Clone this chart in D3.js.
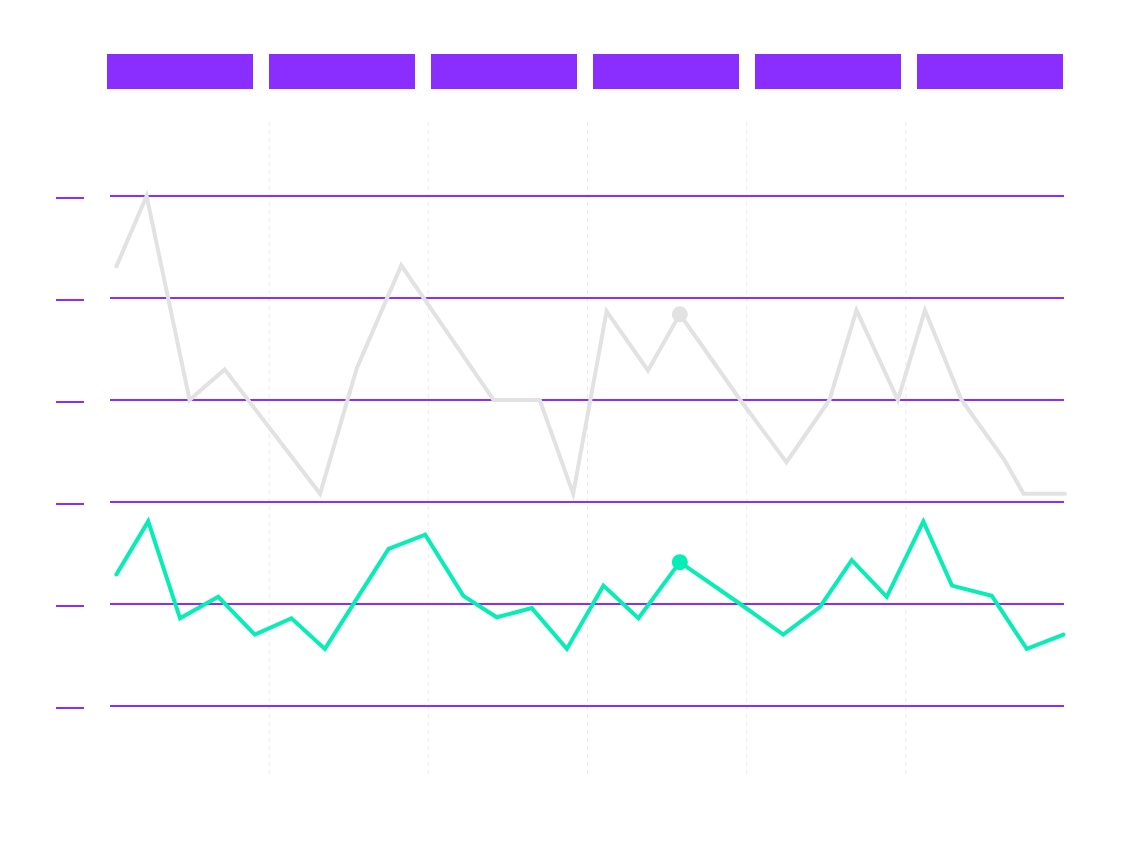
<!DOCTYPE html>
<html>
<head>
<meta charset="utf-8">
<script src="https://cdn.jsdelivr.net/npm/d3@7"></script>
<style>
  html, body { margin: 0; padding: 0; background: #fff; }
  svg { display: block; font-family: "Open Sans", sans-serif; }
</style>
</head>
<body>
<svg id="svg_main"></svg>
<script>
// periods shown as header blocks (labels empty in the reference)
const periods = ['P1', 'P2', 'P3', 'P4', 'P5', 'P6'];
const yTicks = [0, 10, 20, 30, 40, 50];
const periodTicks = [10, 20, 30, 40, 50];

// grey series: position (period units x10) and value
const greyT = [0.4, 2.3, 5.0, 7.2, 13.2, 15.5, 18.3, 24.1, 27.0, 29.1, 31.2, 33.8, 35.8, 39.6, 42.5, 45.2, 46.9, 49.5, 51.2, 53.5, 56.2, 57.4, 60];
const greyV = [43.1, 50, 30, 33, 20.8, 33.1, 43.2, 30, 30, 20.8, 38.7, 32.9, 38.4, 30, 23.9, 30, 38.8, 30, 38.8, 30, 24.1, 20.8, 20.8];

// green series
const greenT = [0.4, 2.4, 4.4, 6.8, 9.1, 11.4, 13.5, 17.5, 19.8, 22.2, 24.3, 26.5, 28.7, 31.0, 33.2, 35.8, 39.6, 42.3, 44.6, 46.6, 48.8, 51.1, 52.9, 55.4, 57.6, 59.9];
const greenV = [12.9, 18.1, 8.6, 10.7, 7.0, 8.6, 5.6, 15.4, 16.8, 10.8, 8.7, 9.6, 5.6, 11.8, 8.6, 14.1, 10, 7.0, 9.7, 14.3, 10.7, 18.1, 11.8, 10.8, 5.6, 7.0];

// highlighted point index in each series
const highlightGrey = 12, highlightGreen = 15;

const width = 1130, height = 848;
const purple = '#8a2eff', grey = '#e2e2e2', green = '#06edb5';

const svg = d3.select('#svg_main')
    .attr('width', width)
    .attr('height', height);

const x = d3.scaleLinear().domain([0, 60]).range([110, 1065]);
const y = d3.scaleLinear().domain([0, 50]).range([706, 196]);
const band = d3.scaleBand().domain(periods).range([107, 1063]).paddingInner(0.0988);

// header blocks
svg.append('g')
    .selectAll('rect')
    .data(periods)
    .join('rect')
    .attr('x', d => band(d))
    .attr('y', 54)
    .attr('width', band.bandwidth())
    .attr('height', 35)
    .attr('fill', purple);

// vertical dashed period lines
svg.append('g')
    .selectAll('line')
    .data(periodTicks)
    .join('line')
    .attr('x1', d => x(d)).attr('x2', d => x(d))
    .attr('y1', 122).attr('y2', 777)
    .attr('stroke', '#ececec')
    .attr('stroke-width', 1)
    .attr('stroke-dasharray', '4,4');

// horizontal gridlines
svg.append('g')
    .selectAll('line')
    .data(yTicks)
    .join('line')
    .attr('x1', 110).attr('x2', 1064)
    .attr('y1', d => y(d)).attr('y2', d => y(d))
    .attr('stroke', purple)
    .attr('stroke-width', 2);

// left tick marks
svg.append('g')
    .selectAll('line')
    .data(yTicks)
    .join('line')
    .attr('x1', 56).attr('x2', 84)
    .attr('y1', d => y(d) + 2).attr('y2', d => y(d) + 2)
    .attr('stroke', purple)
    .attr('stroke-width', 2);

const line = d3.line()
    .x(d => x(d[0]))
    .y(d => y(d[1]));

const greyData = d3.zip(greyT, greyV);
const greenData = d3.zip(greenT, greenV);

svg.append('path')
    .datum(greyData)
    .attr('d', line)
    .attr('fill', 'none')
    .attr('stroke', grey)
    .attr('stroke-width', 4)
    .attr('stroke-linecap', 'round');

svg.append('path')
    .datum(greenData)
    .attr('d', line)
    .attr('fill', 'none')
    .attr('stroke', green)
    .attr('stroke-width', 4)
    .attr('stroke-linecap', 'round');

svg.append('circle')
    .attr('cx', x(greyT[highlightGrey]))
    .attr('cy', y(greyV[highlightGrey]))
    .attr('r', 8)
    .attr('fill', grey);

svg.append('circle')
    .attr('cx', x(greenT[highlightGreen]))
    .attr('cy', y(greenV[highlightGreen]))
    .attr('r', 8)
    .attr('fill', green);
</script>
</body>
</html>
